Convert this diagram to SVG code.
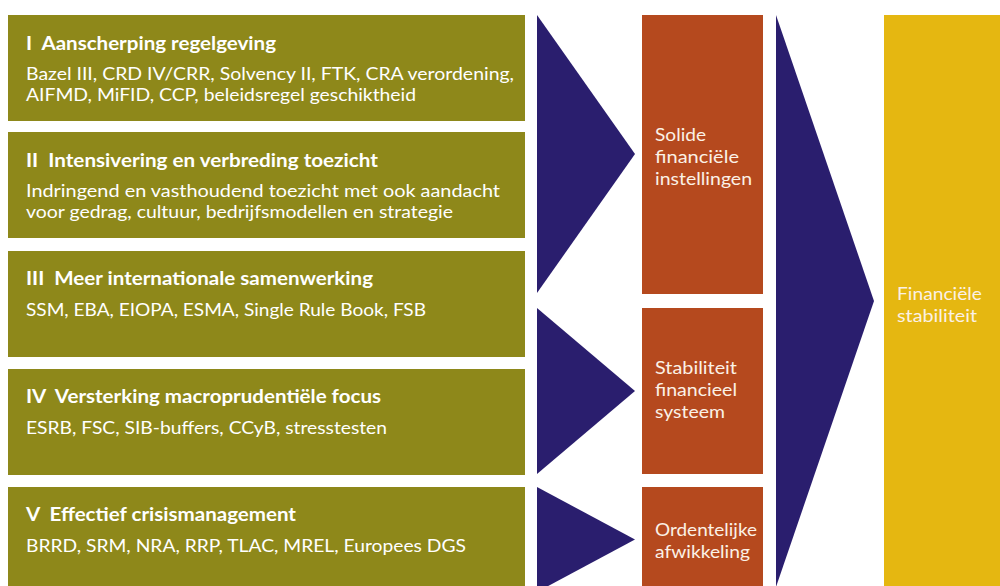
<svg xmlns="http://www.w3.org/2000/svg" width="1000" height="586" viewBox="0 0 1000 586">
  <style>
    .measure { fill: #8E881A; }
    .goal { fill: #B5491E; }
    .final { fill: #E5B711; }
    .arrow { fill: #2A1E6E; }
    text { font-family: Lato, "Open Sans", "Liberation Sans", sans-serif; fill: #FFFFFF; }
    .title { font-size: 18.5px; font-weight: bold; }
    .body { font-size: 17px; }
    .label { font-size: 17.5px; fill: #FBF1E6; }
  </style>
  <rect width="1000" height="586" fill="#FFFFFF"/>

  <!-- Policy measures (left column) -->
  <g id="measure-1">
    <rect class="measure" x="8" y="15" width="517" height="106"/>
    <text class="title" x="26" y="50" textLength="250" lengthAdjust="spacingAndGlyphs" xml:space="preserve">I  Aanscherping regelgeving</text>
    <text class="body" x="26" y="80" textLength="488" lengthAdjust="spacingAndGlyphs">Bazel III, CRD IV/CRR, Solvency II, FTK, CRA verordening,</text>
    <text class="body" x="26" y="101" textLength="390" lengthAdjust="spacingAndGlyphs">AIFMD, MiFID, CCP, beleidsregel geschiktheid</text>
  </g>
  <g id="measure-2">
    <rect class="measure" x="8" y="132" width="517" height="106"/>
    <text class="title" x="26" y="167" textLength="352" lengthAdjust="spacingAndGlyphs" xml:space="preserve">II  Intensivering en verbreding toezicht</text>
    <text class="body" x="26" y="197" textLength="474" lengthAdjust="spacingAndGlyphs">Indringend en vasthoudend toezicht met ook aandacht</text>
    <text class="body" x="26" y="218" textLength="427" lengthAdjust="spacingAndGlyphs">voor gedrag, cultuur, bedrijfsmodellen en strategie</text>
  </g>
  <g id="measure-3">
    <rect class="measure" x="8" y="251" width="517" height="106"/>
    <text class="title" x="26" y="285" textLength="347" lengthAdjust="spacingAndGlyphs" xml:space="preserve">III  Meer internationale samenwerking</text>
    <text class="body" x="26" y="316" textLength="400" lengthAdjust="spacingAndGlyphs">SSM, EBA, EIOPA, ESMA, Single Rule Book, FSB</text>
  </g>
  <g id="measure-4">
    <rect class="measure" x="8" y="369" width="517" height="106"/>
    <text class="title" x="26" y="403" textLength="355" lengthAdjust="spacingAndGlyphs" xml:space="preserve">IV  Versterking macroprudentiële focus</text>
    <text class="body" x="26" y="434" textLength="361" lengthAdjust="spacingAndGlyphs">ESRB, FSC, SIB-buffers, CCyB, stresstesten</text>
  </g>
  <g id="measure-5">
    <rect class="measure" x="8" y="487" width="517" height="106"/>
    <text class="title" x="26" y="521" textLength="270" lengthAdjust="spacingAndGlyphs" xml:space="preserve">V  Effectief crisismanagement</text>
    <text class="body" x="26" y="552" textLength="440" lengthAdjust="spacingAndGlyphs">BRRD, SRM, NRA, RRP, TLAC, MREL, Europees DGS</text>
  </g>

  <!-- Intermediate goals (middle column) -->
  <g id="goal-institutions">
    <rect class="goal" x="642" y="15" width="121" height="279"/>
    <text class="label" x="655" y="141" textLength="51" lengthAdjust="spacingAndGlyphs">Solide</text>
    <text class="label" x="655" y="163" textLength="84" lengthAdjust="spacingAndGlyphs">financiële</text>
    <text class="label" x="655" y="185" textLength="97" lengthAdjust="spacingAndGlyphs">instellingen</text>
  </g>
  <g id="goal-system">
    <rect class="goal" x="642" y="308" width="121" height="166"/>
    <text class="label" x="655" y="374" textLength="82" lengthAdjust="spacingAndGlyphs">Stabiliteit</text>
    <text class="label" x="655" y="396" textLength="82" lengthAdjust="spacingAndGlyphs">financieel</text>
    <text class="label" x="655" y="418" textLength="70" lengthAdjust="spacingAndGlyphs">systeem</text>
  </g>
  <g id="goal-resolution">
    <rect class="goal" x="642" y="487" width="121" height="106"/>
    <text class="label" x="655" y="536" textLength="102" lengthAdjust="spacingAndGlyphs">Ordentelijke</text>
    <text class="label" x="655" y="558" textLength="95" lengthAdjust="spacingAndGlyphs">afwikkeling</text>
  </g>

  <!-- End goal (right column) -->
  <g id="goal-stability">
    <rect class="final" x="884" y="15" width="116" height="578"/>
    <text class="label" x="897" y="300" textLength="85" lengthAdjust="spacingAndGlyphs">Financiële</text>
    <text class="label" x="897" y="322" textLength="80" lengthAdjust="spacingAndGlyphs">stabiliteit</text>
  </g>

  <!-- Arrow shapes linking the columns -->
  <g id="connectors">
    <polygon class="arrow" points="537,15 635,154 537,293"/>
    <polygon class="arrow" points="537,308 635,391 537,474"/>
    <polygon class="arrow" points="537,487 635,539.5 537,592"/>
    <polygon class="arrow" points="776,15 874,301 776,587"/>
  </g>
</svg>
